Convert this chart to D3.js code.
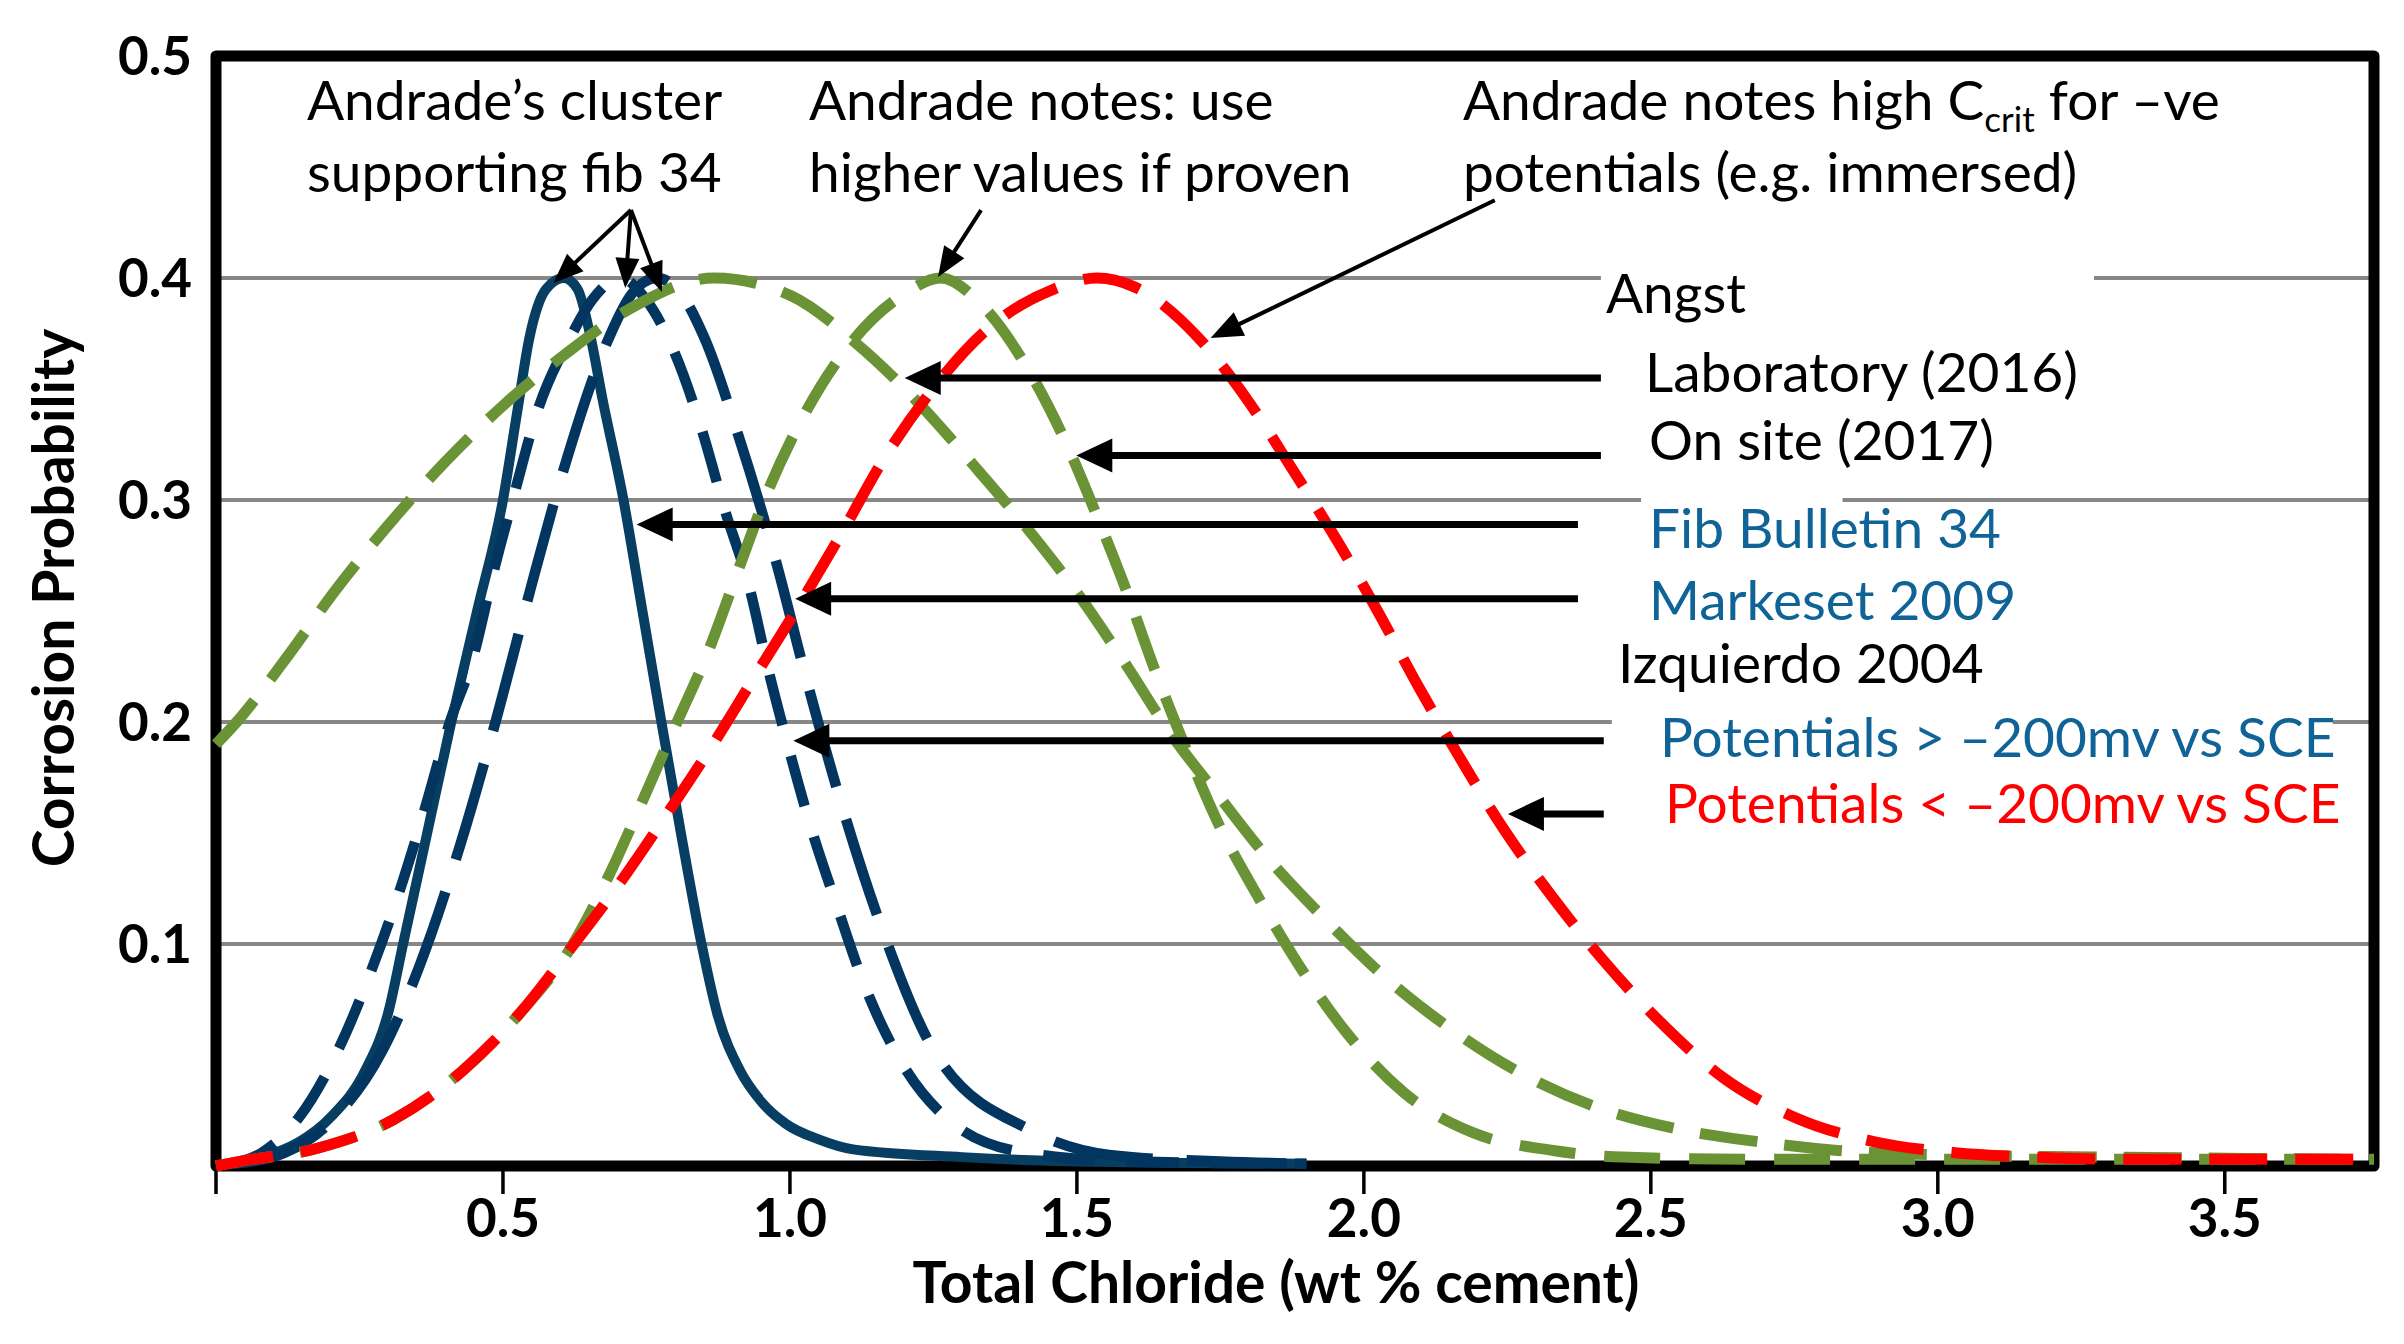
<!DOCTYPE html>
<html><head><meta charset="utf-8">
<script src="https://cdn.jsdelivr.net/npm/d3@7"></script>
<style>
body{margin:0;background:#fff}
svg{display:block}
text{font-family:Lato,"Open Sans",sans-serif}
</style>
</head><body>
<svg id="chart" width="2404" height="1344"></svg>
<script>
// ---------- data ----------
const xTicks = [0, 0.5, 1.0, 1.5, 2.0, 2.5, 3.0, 3.5];
const yTicks = [0.1, 0.2, 0.3, 0.4, 0.5];
const gridValues = [0.1, 0.2, 0.3, 0.4];

// Fib Bulletin 34 (solid)
const fibBulletin34 = [[0.02,0.001],[0.08,0.004],[0.146,0.011],[0.20,0.022],[0.26,0.043],[0.30,0.069],[0.326,0.10],[0.368,0.15],[0.41,0.20],[0.455,0.25],[0.50,0.30],[0.525,0.34],[0.546,0.373],[0.575,0.395],[0.606,0.40],[0.63,0.395],[0.653,0.373],[0.673,0.346],[0.71,0.30],[0.743,0.25],[0.776,0.20],[0.81,0.15],[0.846,0.10],[0.873,0.069],[0.913,0.043],[0.95,0.029],[0.993,0.019],[1.05,0.012],[1.11,0.0075],[1.3,0.004],[1.5,0.002],[1.9,0.001]];
// Izquierdo 2004, potentials > -200mV (dashed blue, peak 0.70)
const izquierdoAbove = [[0.02,0.001],[0.08,0.006],[0.145,0.022],[0.216,0.054],[0.272,0.089],[0.32,0.124],[0.363,0.16],[0.405,0.198],[0.45,0.231],[0.483,0.267],[0.52,0.303],[0.56,0.34],[0.617,0.373],[0.655,0.39],[0.705,0.40],[0.75,0.39],[0.798,0.367],[0.846,0.332],[0.886,0.296],[0.93,0.26],[0.961,0.225],[0.998,0.188],[1.036,0.153],[1.082,0.117],[1.129,0.082],[1.189,0.049],[1.28,0.02],[1.41,0.006],[1.6,0.002],[1.9,0.001]];
// Markeset 2009 (dashed blue, peak 0.77)
const markeset2009 = [[0.03,0.001],[0.12,0.006],[0.2,0.02],[0.29,0.052],[0.353,0.089],[0.426,0.145],[0.488,0.201],[0.546,0.258],[0.606,0.314],[0.678,0.369],[0.725,0.393],[0.768,0.40],[0.81,0.393],[0.851,0.373],[0.909,0.33],[0.975,0.273],[1.028,0.22],[1.092,0.161],[1.163,0.105],[1.253,0.051],[1.42,0.016],[1.556,0.005],[1.75,0.002],[1.9,0.001]];
// Angst laboratory 2016 (dashed green, peak 0.87)
const angstLab = [[0,0.19],[0.036,0.20],[0.123,0.229],[0.21,0.26],[0.298,0.288],[0.395,0.316],[0.498,0.342],[0.61,0.366],[0.727,0.387],[0.868,0.40],[1.002,0.392],[1.118,0.37],[1.223,0.344],[1.319,0.316],[1.411,0.288],[1.498,0.259],[1.58,0.228],[1.668,0.193],[1.746,0.167],[1.835,0.138],[1.933,0.111],[2.037,0.085],[2.15,0.062],[2.272,0.042],[2.40,0.027],[2.54,0.017],[2.685,0.011],[2.825,0.007],[3.0,0.005],[3.3,0.004],[3.76,0.003]];
// Angst on site 2017 (dashed green, peak 1.26)
const angstSite = [[0,0],[0.04,0.002],[0.177,0.008],[0.31,0.021],[0.43,0.043],[0.53,0.069],[0.615,0.097],[0.683,0.13],[0.744,0.165],[0.80,0.198],[0.858,0.232],[0.908,0.267],[0.96,0.303],[1.02,0.336],[1.095,0.367],[1.2,0.393],[1.263,0.40],[1.326,0.39],[1.41,0.361],[1.477,0.328],[1.533,0.294],[1.585,0.26],[1.635,0.224],[1.69,0.188],[1.745,0.155],[1.814,0.122],[1.888,0.09],[1.97,0.06],[2.07,0.033],[2.19,0.015],[2.33,0.007],[2.45,0.004],[2.7,0.003],[3.2,0.003],[3.76,0.003]];
// Izquierdo 2004, potentials < -200mV (dashed red, peak 1.53)
const izquierdoBelow = [[0,0],[0.04,0.002],[0.177,0.008],[0.31,0.021],[0.43,0.043],[0.53,0.069],[0.615,0.097],[0.705,0.128],[0.787,0.159],[0.866,0.19],[0.94,0.221],[1.017,0.253],[1.09,0.285],[1.16,0.317],[1.243,0.348],[1.34,0.376],[1.46,0.395],[1.535,0.40],[1.6,0.396],[1.712,0.373],[1.80,0.344],[1.88,0.312],[1.955,0.281],[2.026,0.249],[2.095,0.216],[2.167,0.184],[2.243,0.152],[2.326,0.122],[2.416,0.093],[2.516,0.065],[2.625,0.04],[2.75,0.022],[2.888,0.011],[3.03,0.006],[3.17,0.004],[3.32,0.003],[3.5,0.003],[3.76,0.003]];

// ---------- layout ----------
const svg = d3.select('#chart');
const x = d3.scaleLinear().domain([0, 3.76]).range([216, 2374]);
const y = d3.scaleLinear().domain([0, 0.5]).range([1166, 56]);

svg.append('rect').attr('width',2404).attr('height',1344).attr('fill','#fff');

// gridlines
svg.append('g').selectAll('line').data(gridValues).join('line')
  .attr('x1', x(0)).attr('x2', x(3.76))
  .attr('y1', d => y(d)).attr('y2', d => y(d))
  .attr('stroke', '#878787').attr('stroke-width', 4);

// text-box backgrounds that interrupt gridlines
const gridGaps = [{v:0.4, a:2.413, b:3.272},{v:0.3, a:2.483, b:2.834},{v:0.2, a:2.432, b:3.688}];
svg.append('g').selectAll('rect').data(gridGaps).join('rect')
  .attr('x', d => x(d.a)).attr('width', d => x(d.b) - x(d.a))
  .attr('y', d => y(d.v) - 4).attr('height', 8).attr('fill', '#fff');

// frame
svg.append('rect').attr('x', x(0)).attr('y', y(0.5))
  .attr('width', x(3.76) - x(0)).attr('height', y(0) - y(0.5))
  .attr('fill','none').attr('stroke','#000').attr('stroke-width',11)
  .attr('stroke-linejoin','round');

// x ticks
const xAxisG = svg.append('g');
xAxisG.selectAll('line').data(xTicks).join('line')
  .attr('x1', d => x(d)).attr('x2', d => x(d))
  .attr('y1', y(0) + 5).attr('y2', y(0) + 28)
  .attr('stroke','#000').attr('stroke-width',3.5);
xAxisG.selectAll('text').data(xTicks.filter(d => d > 0)).join('text')
  .attr('x', d => x(d)).attr('y', 1237)
  .attr('text-anchor','middle').attr('font-weight',700).attr('font-size',53)
  .text(d => d3.format('.1f')(d));

// y tick labels
svg.append('g').selectAll('text').data(yTicks).join('text')
  .attr('x', 192).attr('y', d => y(d) + 19)
  .attr('text-anchor','end').attr('font-weight',700).attr('font-size',53)
  .text(d => d3.format('.1f')(d));

// axis titles
svg.append('text').attr('transform','translate(74,598) rotate(-90)')
  .attr('text-anchor','middle').attr('font-weight',700).attr('font-size',57)
  .text('Corrosion Probability');
svg.append('text').attr('x',1276).attr('y',1303)
  .attr('text-anchor','middle').attr('font-weight',700).attr('font-size',57)
  .text('Total Chloride (wt % cement)');

// curves
const line = d3.line().x(d => x(d[0])).y(d => y(d[1])).curve(d3.curveMonotoneX);
const series = [
  {data: fibBulletin34, color:'#083e61', width:10, dash:null},
  {data: izquierdoAbove, color:'#02355f', width:10.5, dash:'52,32'},
  {data: markeset2009, color:'#02355f', width:10.5, dash:'100,34'},
  {data: angstLab, color:'#6a9335', width:11, dash:'58,27'},
  {data: angstSite, color:'#6a9335', width:11, dash:'56,29'},
  {data: izquierdoBelow, color:'#ff0000', width:11, dash:'58,28'}
];
svg.append('g').selectAll('path').data(series).join('path')
  .attr('d', d => line(d.data))
  .attr('fill','none').attr('stroke', d => d.color).attr('stroke-width', d => d.width)
  .attr('stroke-dasharray', d => d.dash).attr('stroke-linecap','butt');

// arrows
const arrowG = svg.append('g');
function arrow(x1, y1, x2, y2, lw, hl, hw){
  const X1 = x(x1), Y1 = y(y1), X2 = x(x2), Y2 = y(y2);
  const dx = X2 - X1, dy = Y2 - Y1, L = Math.hypot(dx, dy), ux = dx / L, uy = dy / L;
  const bx = X2 - ux * hl, by = Y2 - uy * hl;
  arrowG.append('line').attr('x1', X1).attr('y1', Y1).attr('x2', bx + ux * 2).attr('y2', by + uy * 2)
    .attr('stroke','#000').attr('stroke-width', lw);
  arrowG.append('path')
    .attr('d', `M${X2},${Y2}L${bx - uy*hw/2},${by + ux*hw/2}L${bx + uy*hw/2},${by - ux*hw/2}Z`)
    .attr('fill','#000');
}
// Andrade's cluster
arrow(0.723, 0.4306, 0.588, 0.3977, 4, 30, 24);
arrow(0.723, 0.4306, 0.713, 0.3955, 4, 30, 24);
arrow(0.723, 0.4306, 0.777, 0.3937, 4, 30, 24);
// Andrade notes: use higher values
arrow(1.333, 0.4306, 1.258, 0.4005, 4, 30, 24);
// Andrade notes high Ccrit
arrow(2.228, 0.435, 1.733, 0.373, 4, 32, 26);
// legend arrows
arrow(2.413, 0.355, 1.200, 0.355, 7, 36, 34);
arrow(2.413, 0.320, 1.499, 0.320, 7, 36, 34);
arrow(2.373, 0.289, 0.733, 0.289, 7, 36, 34);
arrow(2.373, 0.2555, 1.009, 0.2555, 7, 36, 34);
arrow(2.418, 0.1915, 1.006, 0.1915, 7, 36, 34);
arrow(2.418, 0.1586, 2.251, 0.1586, 7, 36, 34);

// annotation texts
const blueText = '#0f6396';
const notes = [
  {t:'Andrade\u2019s cluster', x:307, y:120, c:'#000'},
  {t:'supporting fib 34', x:307, y:192, c:'#000'},
  {t:'Andrade notes: use', x:809, y:120, c:'#000'},
  {t:'higher values if proven', x:809, y:192, c:'#000'},
  {t:'potentials (e.g. immersed)', x:1463, y:192, c:'#000'},
  {t:'Angst', x:1606, y:313, c:'#000'},
  {t:'Laboratory (2016)', x:1645, y:392, c:'#000'},
  {t:'On site (2017)', x:1649, y:460, c:'#000'},
  {t:'Fib Bulletin 34', x:1649, y:548, c:blueText},
  {t:'Markeset 2009', x:1649, y:620, c:blueText},
  {t:'Izquierdo 2004', x:1618, y:683, c:'#000'},
  {t:'Potentials > \u2013200mv vs SCE', x:1660, y:757, c:blueText},
  {t:'Potentials < \u2013200mv vs SCE', x:1665, y:823, c:'#ff0000'}
];
svg.append('g').selectAll('text').data(notes).join('text')
  .attr('x', d => d.x).attr('y', d => d.y).attr('fill', d => d.c)
  .attr('font-size', 55).text(d => d.t);
const cc = svg.append('text').attr('x',1463).attr('y',120).attr('font-size',55).attr('fill','#000');
cc.append('tspan').text('Andrade notes high C');
cc.append('tspan').attr('font-size',35).attr('dy',12).text('crit');
cc.append('tspan').attr('dy',-12).text(' for \u2013ve');
</script>
</body></html>
